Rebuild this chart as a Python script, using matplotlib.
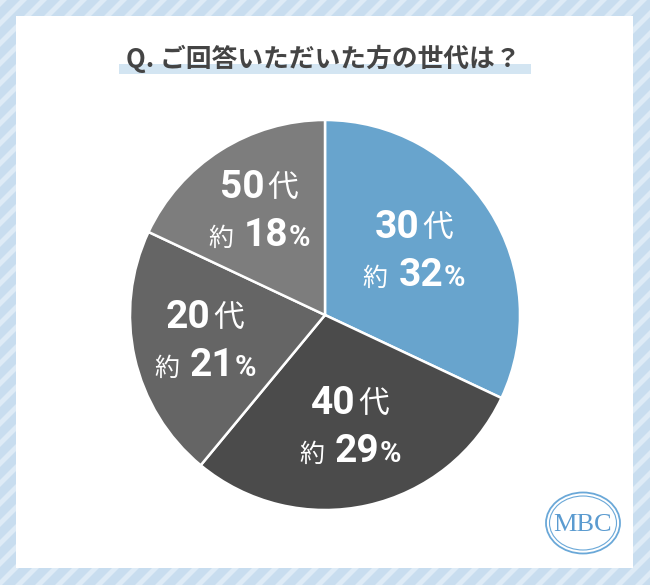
import numpy as np
import matplotlib.pyplot as plt
from matplotlib.patches import Polygon, Rectangle, Ellipse
from matplotlib.offsetbox import TextArea, HPacker, VPacker, AnnotationBbox

# data
ages = ["30", "40", "20", "50"]
shares = [32, 29, 21, 18]
colors = ["#68a4cd", "#4b4b4b", "#656565", "#7d7d7d"]

title = "Q. ご回答いただいた方の世代は？"

W, H = 650, 585
fig = plt.figure(figsize=(W / 100, H / 100), dpi=100)

# background with diagonal stripes + white panel (pixel coords)
bg = fig.add_axes([0, 0, 1, 1], zorder=0)
bg.set_xlim(0, W)
bg.set_ylim(H, 0)
bg.axis("off")
bg.add_patch(Rectangle((0, 0), W, H, color="#c8ddef", lw=0))
for c in np.arange(0, W + H, 20):
    bg.add_patch(Polygon([(c, 0), (c + 7, 0), (c + 7 - H, H), (c - H, H)],
                         closed=True, color="#deebf6", lw=0))
bg.add_patch(Rectangle((16, 16), 617, 552, color="white", lw=0))

# title with highlight bar
bg.add_patch(Rectangle((119, 64), 412, 10, color="#d3e5f2", lw=0))
bg.text(323, 59, title, ha="center", va="center", fontsize=18.5, weight="bold",
        color="#444444", family=["Noto Sans CJK JP", "DejaVu Sans"])

# logo
bg.add_patch(Ellipse((583, 523), 74, 61, fill=False, ec="#6aa8d8", lw=1.3))
bg.add_patch(Ellipse((583, 523), 67, 54, fill=False, ec="#6aa8d8", lw=0.8))
bg.text(583, 525, "MBC", ha="center", va="center", fontsize=19,
        color="#5b9bd0", family="Liberation Serif")

# pie
ax = fig.add_axes([130 / W, (H - 510) / H, 390 / W, 390 / H], zorder=1)
wedges, _ = ax.pie(shares, colors=colors, startangle=90, counterclock=False,
                   radius=1, wedgeprops=dict(edgecolor="white", linewidth=1.8))
ax.set_xlim(-1, 1)
ax.set_ylim(-1, 1)
ax.set_aspect("equal")
ax.axis("off")

num_font = ["Liberation Sans Narrow", "Roboto", "DejaVu Sans"]
jp_font = ["Noto Sans CJK JP", "DejaVu Sans"]
num_style = dict(weight="bold", color="white", family=num_font)
label_r = [0.56, 0.59, 0.63, 0.63]   # how far out each label sits
label_turn = [3, 0, 0, 0]            # small angle nudge, degrees

for w, age, s, r, t in zip(wedges, ages, shares, label_r, label_turn):
    mid = np.deg2rad((w.theta1 + w.theta2) / 2 + t)
    x, y = r * np.cos(mid), r * np.sin(mid)
    line1 = HPacker(children=[
        TextArea(age, textprops=dict(fontsize=28, **num_style)),
        TextArea("代", textprops=dict(fontsize=22, color="white", family=jp_font)),
    ], align="baseline", pad=0, sep=2)
    pct = HPacker(children=[
        TextArea(str(s), textprops=dict(fontsize=28, **num_style)),
        TextArea("%", textprops=dict(fontsize=21, **num_style)),
    ], align="baseline", pad=0, sep=0)
    line2 = HPacker(children=[
        TextArea("約", textprops=dict(fontsize=18, color="white", family=jp_font)),
        pct,
    ], align="baseline", pad=0, sep=8)
    box = VPacker(children=[line1, line2], align="center", pad=0, sep=8)
    ax.add_artist(AnnotationBbox(box, (x, y), frameon=False, box_alignment=(0.5, 0.5)))

plt.savefig("out.png", dpi=100)
